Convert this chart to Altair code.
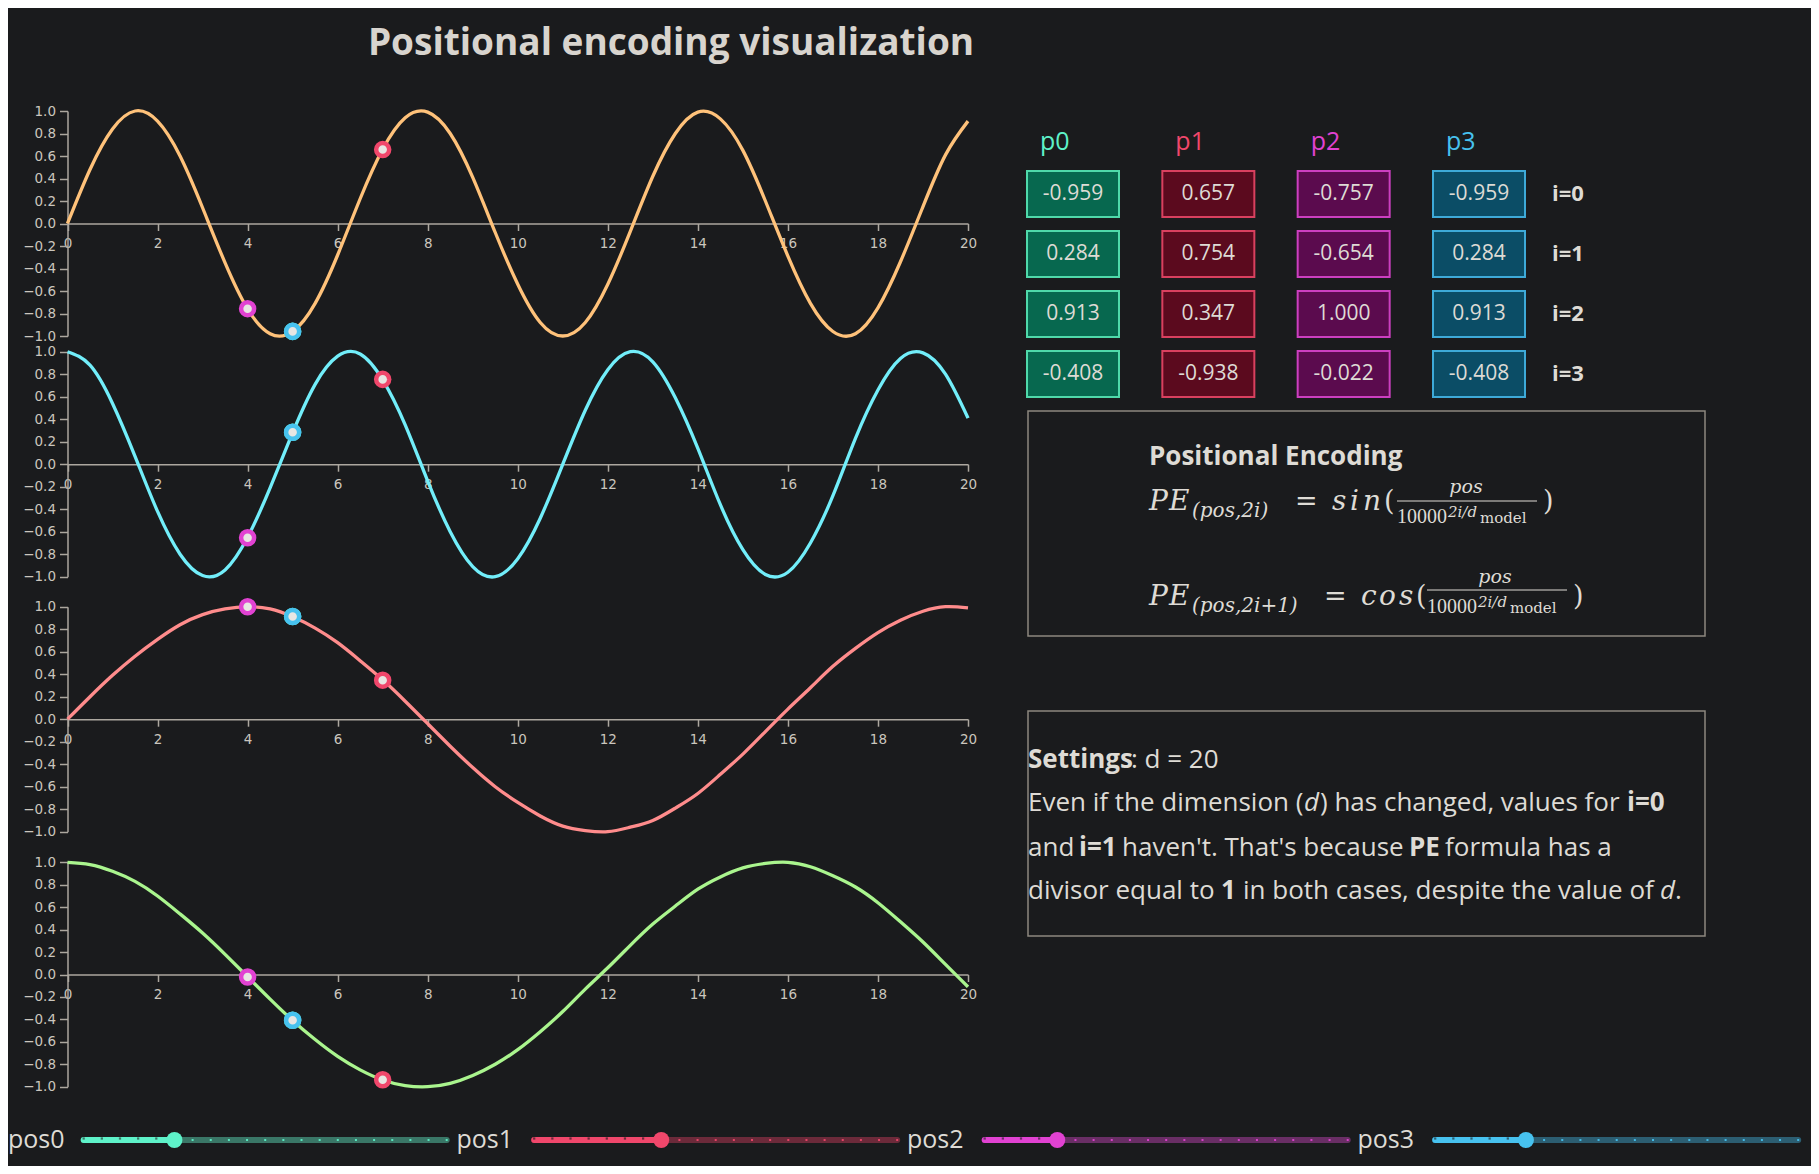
import altair as alt
import pandas as pd

# ---------------- data ----------------
# sample positions along each panel's x axis
x_samples = [0, 0.5, 1, 1.5, 2, 2.5, 3, 3.5, 4, 4.5, 5, 5.5, 6, 6.5, 7, 7.5, 8, 8.5, 9, 9.5,
             10, 10.5, 11, 11.5, 12, 12.5, 13, 13.5, 14, 14.5, 15, 15.5, 16, 16.5, 17, 17.5,
             18, 18.5, 19, 19.5, 20]

# curve values of the four panels (dimension i=0..3)
dim0 = [0.00, 0.48, 0.84, 1.00, 0.91, 0.60, 0.14, -0.35, -0.76, -0.98, -0.96, -0.71, -0.28, 0.22,
        0.66, 0.94, 0.99, 0.80, 0.41, -0.08, -0.54, -0.88, -1.00, -0.88, -0.54, -0.07, 0.42, 0.80,
        0.99, 0.93, 0.65, 0.20, -0.29, -0.71, -0.96, -0.98, -0.75, -0.34, 0.15, 0.61, 0.91]
dim1 = [1.00, 0.88, 0.54, 0.07, -0.42, -0.80, -0.99, -0.94, -0.65, -0.21, 0.28, 0.71, 0.96, 0.98,
        0.75, 0.35, -0.15, -0.60, -0.91, -1.00, -0.84, -0.48, 0.00, 0.48, 0.84, 1.00, 0.91, 0.59,
        0.14, -0.36, -0.76, -0.98, -0.96, -0.70, -0.28, 0.23, 0.66, 0.94, 0.99, 0.80, 0.41]
dim2 = [0.00, 0.20, 0.39, 0.56, 0.71, 0.84, 0.93, 0.98, 1.00, 0.98, 0.91, 0.81, 0.68, 0.52,
        0.35, 0.16, -0.04, -0.24, -0.43, -0.60, -0.74, -0.86, -0.95, -0.99, -1.00, -0.96, -0.90,
        -0.79, -0.66, -0.49, -0.31, -0.11, 0.09, 0.28, 0.47, 0.63, 0.77, 0.88, 0.96, 1.00, 0.99]
dim3 = [1.00, 0.98, 0.92, 0.83, 0.70, 0.54, 0.37, 0.18, -0.02, -0.22, -0.41, -0.58, -0.73, -0.85,
        -0.94, -0.99, -1.00, -0.97, -0.90, -0.80, -0.67, -0.51, -0.33, -0.13, 0.06, 0.26, 0.45,
        0.61, 0.76, 0.87, 0.95, 0.99, 1.00, 0.96, 0.88, 0.78, 0.64, 0.47, 0.29, 0.09, -0.11]

# slider positions and the table of encodings
p_names = ["p0", "p1", "p2", "p3"]
slider_names = ["pos0", "pos1", "pos2", "pos3"]
pos_values = [5, 7, 4, 5]
slider_min, slider_max = 0, 20
slider_ticks = [0, 1, 2, 3, 4, 5, 6, 7, 8, 9, 10, 11, 12, 13, 14, 15, 16, 17, 18, 19, 20]
p0_vals = [-0.959, 0.284, 0.913, -0.408]
p1_vals = [0.657, 0.754, 0.347, -0.938]
p2_vals = [-0.757, -0.654, 1.000, -0.022]
p3_vals = [-0.959, 0.284, 0.913, -0.408]
row_labels = ["i=0", "i=1", "i=2", "i=3"]

x_ticks = [0, 2, 4, 6, 8, 10, 12, 14, 16, 18, 20]
y_ticks = [-1.0, -0.8, -0.6, -0.4, -0.2, 0.0, 0.2, 0.4, 0.6, 0.8, 1.0]

# ---------------- look ----------------
OFF = 8            # page margin
W, H = 1803, 1158
BG = "#1a1b1d"
TEXT = "#dedbd5"
AXIS = "#aca79f"
SANS = "Open Sans"
SERIF = "DejaVu Serif"

curve_colors = ["#ffc27a", "#72eefa", "#ff8c8c", "#aaf58e"]
p_colors = ["#5ef2c9", "#f0476b", "#e142d2", "#47c2ef"]
box_fill = ["#07684f", "#5b0a1e", "#5b0b4e", "#0b4d66"]
box_stroke = ["#4fd9aa", "#d9405f", "#cc3fc0", "#3eaad8"]
track_dark = ["#3a7767", "#6c2a3a", "#692e65", "#2c5e72"]

dims = [dim0, dim1, dim2, dim3]
p_vals = [p0_vals, p1_vals, p2_vals, p3_vals]
panels = [(111, 336), (351.7, 576.7), (606.7, 831.7), (862.3, 1086.7)]
x_range = [67.5 - OFF, 968 - OFF]

layers = []

# title
title = pd.DataFrame({"t": ["Positional encoding visualization"]})
layers.append(alt.Chart(title).mark_text(
    font=SANS, fontSize=37, fontWeight="bold", color="#d8d4ce", align="center", baseline="alphabetic"
).encode(x=alt.value(671 - OFF), y=alt.value(55 - OFF), text="t:N"))

# ---- the four curve panels ----
for k in range(4):
    top, bot = panels[k]
    zero = (top + bot) / 2 - OFF
    xs = alt.Scale(domain=[0, 20], range=x_range, nice=False, zero=False)
    ys = alt.Scale(domain=[-1, 1], range=[bot - OFF, top - OFF], nice=False, zero=False)
    curve = pd.DataFrame({"x": x_samples, "y": dims[k]})
    line = alt.Chart(curve).mark_line(
        color=curve_colors[k], strokeWidth=3.3, interpolate="natural"
    ).encode(
        x=alt.X("x:Q", scale=xs, axis=alt.Axis(
            orient="bottom", offset=zero - H, values=x_ticks, title=None,
            labelFlush=False, tickSize=7, labelPadding=6)),
        y=alt.Y("y:Q", scale=ys, axis=alt.Axis(
            orient="left", offset=-x_range[0], values=y_ticks, format=".1f", title=None,
            labelFlush=False, tickSize=8, labelPadding=4)),
    )
    pts = pd.DataFrame({"p": p_names, "x": pos_values, "y": [v[k] for v in p_vals]})
    dots = alt.Chart(pts).mark_point(
        shape="circle", filled=True, fill="#e8e6e3", opacity=1, size=170, strokeWidth=4.5
    ).encode(
        x=alt.X("x:Q", scale=xs, axis=None),
        y=alt.Y("y:Q", scale=ys, axis=None),
        stroke=alt.Stroke("p:N", scale=alt.Scale(domain=p_names, range=p_colors), legend=None),
    )
    layers += [line, dots]

# ---- table of values ----
rows = []
for c, p in enumerate(p_names):
    for r, v in enumerate(p_vals[c]):
        rows.append({"p": p, "col": c, "row": r, "label": f"{v:.3f}"})
tab = pd.DataFrame(rows)
col_s = alt.Scale(domain=[0, 3], range=[1073 - OFF, 1479 - OFF], nice=False, zero=False)
row_s = alt.Scale(domain=[0, 3], range=[194 - OFF, 374 - OFF], nice=False, zero=False)

boxes = alt.Chart(tab).mark_point(
    shape="M-1,-0.5H1V0.5H-1Z", size=92 * 92, filled=True, opacity=1, strokeWidth=2
).encode(
    x=alt.X("col:Q", scale=col_s, axis=None),
    y=alt.Y("row:Q", scale=row_s, axis=None),
    fill=alt.Fill("p:N", scale=alt.Scale(domain=p_names, range=box_fill), legend=None),
    stroke=alt.Stroke("p:N", scale=alt.Scale(domain=p_names, range=box_stroke), legend=None),
)
cell_text = alt.Chart(tab).mark_text(font=SANS, fontSize=21, color=TEXT).encode(
    x=alt.X("col:Q", scale=col_s, axis=None),
    y=alt.Y("row:Q", scale=row_s, axis=None),
    text="label:N",
)
heads = pd.DataFrame({"p": p_names, "col": [0, 1, 2, 3]})
head_text = alt.Chart(heads).mark_text(
    font=SANS, fontSize=25, align="left", baseline="alphabetic", dx=-33
).encode(
    x=alt.X("col:Q", scale=col_s, axis=None),
    y=alt.value(150 - OFF),
    text="p:N",
    color=alt.Color("p:N", scale=alt.Scale(domain=p_names, range=p_colors), legend=None),
)
rlab = pd.DataFrame({"row": [0, 1, 2, 3], "label": row_labels})
row_text = alt.Chart(rlab).mark_text(
    font=SANS, fontSize=22, fontWeight="bold", color=TEXT, align="left"
).encode(
    x=alt.value(1552 - OFF),
    y=alt.Y("row:Q", scale=row_s, axis=None),
    text="label:N",
)
layers += [boxes, cell_text, head_text, row_text]

# ---- framed panels ----
one = pd.DataFrame({"a": [0]})
for (y0, y1) in [(411, 636), (711, 936)]:
    layers.append(alt.Chart(one).mark_rect(
        fillOpacity=0, stroke="#8d887f", strokeWidth=1.5
    ).encode(x=alt.value(1028 - OFF), x2=alt.value(1705 - OFF),
             y=alt.value(y0 - OFF), y2=alt.value(y1 - OFF)))


def text_layer(items, **mark):
    df = pd.DataFrame(items, columns=["text", "px", "py", "size"])
    df["px"] = df["px"] - OFF
    df["py"] = df["py"] - OFF
    return alt.Chart(df).mark_text(align="left", baseline="alphabetic", color=TEXT, **mark).encode(
        x=alt.X("px:Q", scale=None, axis=None),
        y=alt.Y("py:Q", scale=None, axis=None),
        text="text:N",
        size=alt.Size("size:Q", scale=None, legend=None),
    )


# formula box
layers.append(text_layer([("Positional Encoding", 1149, 465, 26)], font=SANS, fontWeight="bold"))
layers.append(text_layer([
    ("P", 1149, 510, 28), ("E", 1169, 510, 28), ("(pos,2i)", 1192, 517, 20),
    ("s", 1332, 510, 28), ("i", 1350, 510, 28), ("n", 1363, 510, 28),
    ("2i/d", 1448, 517, 15),
    ("P", 1149, 605, 28), ("E", 1169, 605, 28), ("(pos,2i+1)", 1192, 612, 20),
    ("c", 1361, 605, 28), ("o", 1379, 605, 28), ("s", 1399, 605, 28),
    ("2i/d", 1478, 607, 15),
], font=SERIF, fontStyle="italic"))
layers.append(text_layer([
    ("=", 1295, 510, 27), ("(", 1384, 510, 27), ("model", 1480, 523, 15), (")", 1543, 510, 27),
    ("=", 1324, 605, 27), ("(", 1416, 605, 27), ("model", 1510, 613, 15), (")", 1573, 605, 27),
], font=SERIF))
layers.append(text_layer([("10000", 1397, 523, 20), ("10000", 1427, 613, 20)], font="Liberation Serif"))
pos_num = pd.DataFrame({"t": ["pos", "pos"], "px": [1466 - OFF, 1495 - OFF], "py": [493 - OFF, 583 - OFF]})
layers.append(alt.Chart(pos_num).mark_text(
    font=SERIF, fontStyle="italic", fontSize=19, color=TEXT, align="center", baseline="alphabetic"
).encode(x=alt.X("px:Q", scale=None, axis=None), y=alt.Y("py:Q", scale=None, axis=None), text="t:N"))
for (xa, xb, yy) in [(1397, 1537, 501), (1427, 1567, 590)]:
    layers.append(alt.Chart(one).mark_rule(color=TEXT, strokeWidth=1).encode(
        x=alt.value(xa - OFF), x2=alt.value(xb - OFF), y=alt.value(yy - OFF)))

# settings box
layers.append(text_layer([
    (": d = 20", 1131, 768, 26),
    ("Even if the dimension (", 1028, 811, 26), (") has changed, values for", 1320, 811, 26),
    ("and", 1028, 856, 26), ("haven't. That's because", 1122, 856, 26), ("formula has a", 1445, 856, 26),
    ("divisor equal to", 1028, 899, 26), ("in both cases, despite the value of", 1243, 899, 26),
    (".", 1675, 899, 26),
], font=SANS))
layers.append(text_layer([
    ("Settings", 1028, 768, 26), ("i=0", 1627, 811, 26), ("i=1", 1079, 856, 26),
    ("PE", 1409, 856, 26), ("1", 1221, 899, 26),
], font=SANS, fontWeight="bold"))
layers.append(text_layer([("d", 1304, 811, 26), ("d", 1660, 899, 26)], font=SANS, fontStyle="italic"))

# ---- sliders ----
for k in range(4):
    s0 = 83.7 + 450.5 * k - OFF
    sx = alt.Scale(domain=[slider_min, slider_max], range=[s0, s0 + 363], nice=False, zero=False)
    yv = 1140 - OFF
    srow = pd.DataFrame({"lo": [slider_min], "hi": [slider_max], "pos": [pos_values[k]],
                         "name": [slider_names[k]]})
    tks = pd.DataFrame({"t": slider_ticks})
    tks["on"] = tks["t"] <= pos_values[k]
    layers += [
        alt.Chart(srow).mark_rule(strokeWidth=6, strokeCap="round", color=track_dark[k]).encode(
            x=alt.X("lo:Q", scale=sx, axis=None), x2="hi:Q", y=alt.value(yv)),
        alt.Chart(srow).mark_rule(strokeWidth=6, strokeCap="round", color=p_colors[k]).encode(
            x=alt.X("lo:Q", scale=sx, axis=None), x2="pos:Q", y=alt.value(yv)),
        alt.Chart(tks).transform_filter("datum.on").mark_square(
            size=5, color=track_dark[k], opacity=1).encode(
            x=alt.X("t:Q", scale=sx, axis=None), y=alt.value(yv - 1.5)),
        alt.Chart(tks).transform_filter("!datum.on").mark_square(
            size=4, color=p_colors[k], opacity=0.9).encode(
            x=alt.X("t:Q", scale=sx, axis=None), y=alt.value(yv)),
        alt.Chart(srow).mark_circle(size=255, color=p_colors[k], opacity=1).encode(
            x=alt.X("pos:Q", scale=sx, axis=None), y=alt.value(yv)),
        alt.Chart(srow).mark_text(font=SANS, fontSize=25, color=TEXT, align="left").encode(
            x=alt.value(max(0, 6 + 450.5 * k - OFF)), y=alt.value(yv), text="name:N"),
    ]

chart = alt.layer(*layers).resolve_scale(
    x="independent", y="independent", color="independent",
    fill="independent", stroke="independent", size="independent",
).properties(
    width=W, height=H, padding=0, background=BG,
    autosize=alt.AutoSizeParams(type="none"),
).configure_view(
    strokeWidth=0
).configure_axis(
    grid=False, labelFont="DejaVu Sans", labelFontSize=13.5, labelColor="#cbc6be",
    domainColor=AXIS, tickColor=AXIS, domainWidth=1.5, tickWidth=1.5,
)

chart.save("out.html", embed_options={"renderer": "svg", "actions": False})
